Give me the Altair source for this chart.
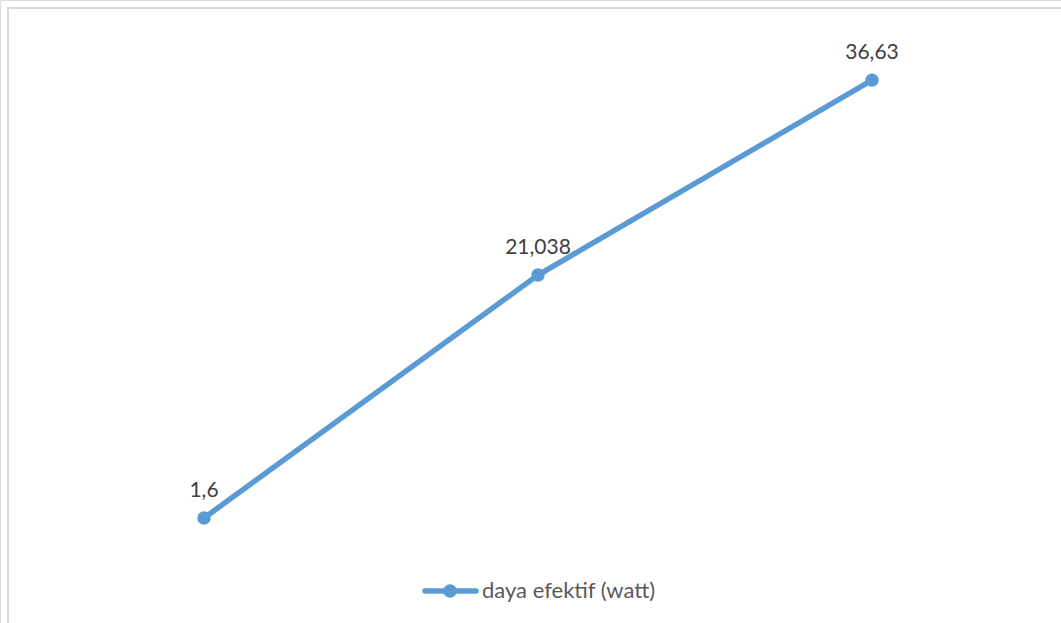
import altair as alt
import pandas as pd

# Measured effective power per test point
idx = [0, 1, 2]
daya = [1.6, 21.038, 36.63]
label = ["1,6", "21,038", "36,63"]
series_name = "daya efektif (watt)"

BLUE = "#5b9bd5"
W, H = 1061, 623

df = pd.DataFrame({"i": idx, "daya": daya, "label": label})

x = alt.X("i:Q", scale=alt.Scale(domain=[-0.5, 2.5], range=[37, 1039]), axis=None)
y = alt.Y("daya:Q", scale=alt.Scale(domain=[0, 40], range=[538, 38]), axis=None)

base = alt.Chart(df).encode(x=x, y=y)

line = base.mark_line(color=BLUE, strokeWidth=5.5, strokeCap="round")
points = base.mark_circle(color=BLUE, size=180, opacity=1)
labels = base.mark_text(
    font="Lato", fontSize=21, color="#404040", dy=-21, baseline="alphabetic"
).encode(text="label:N")

# Outer chart frame
frame = alt.Chart(pd.DataFrame({"k": [0]})).mark_rect(
    fill=None, stroke="#d9d9d9", strokeWidth=2
).encode(x=alt.value(8), x2=alt.value(W + 20), y=alt.value(8), y2=alt.value(H + 20))

# Legend drawn at the bottom
leg = pd.DataFrame({"name": [series_name]})
leg_line = alt.Chart(leg).mark_rule(color=BLUE, strokeWidth=5.5, strokeCap="round").encode(
    x=alt.value(425), x2=alt.value(476), y=alt.value(591)
)
leg_point = alt.Chart(leg).mark_circle(color=BLUE, size=180, opacity=1).encode(
    x=alt.value(450), y=alt.value(591)
)
leg_text = alt.Chart(leg).mark_text(
    font="Lato", fontSize=22, color="#595959", align="left", baseline="middle"
).encode(x=alt.value(482), y=alt.value(591), text="name:N")

chart = alt.layer(frame, line, points, labels, leg_line, leg_point, leg_text).properties(
    width=W, height=H, padding=0, autosize=alt.AutoSizeParams(type="none")
).configure_view(stroke=None).configure(background="white")

chart.save("out.html", embed_options={"renderer": "svg", "actions": False})
